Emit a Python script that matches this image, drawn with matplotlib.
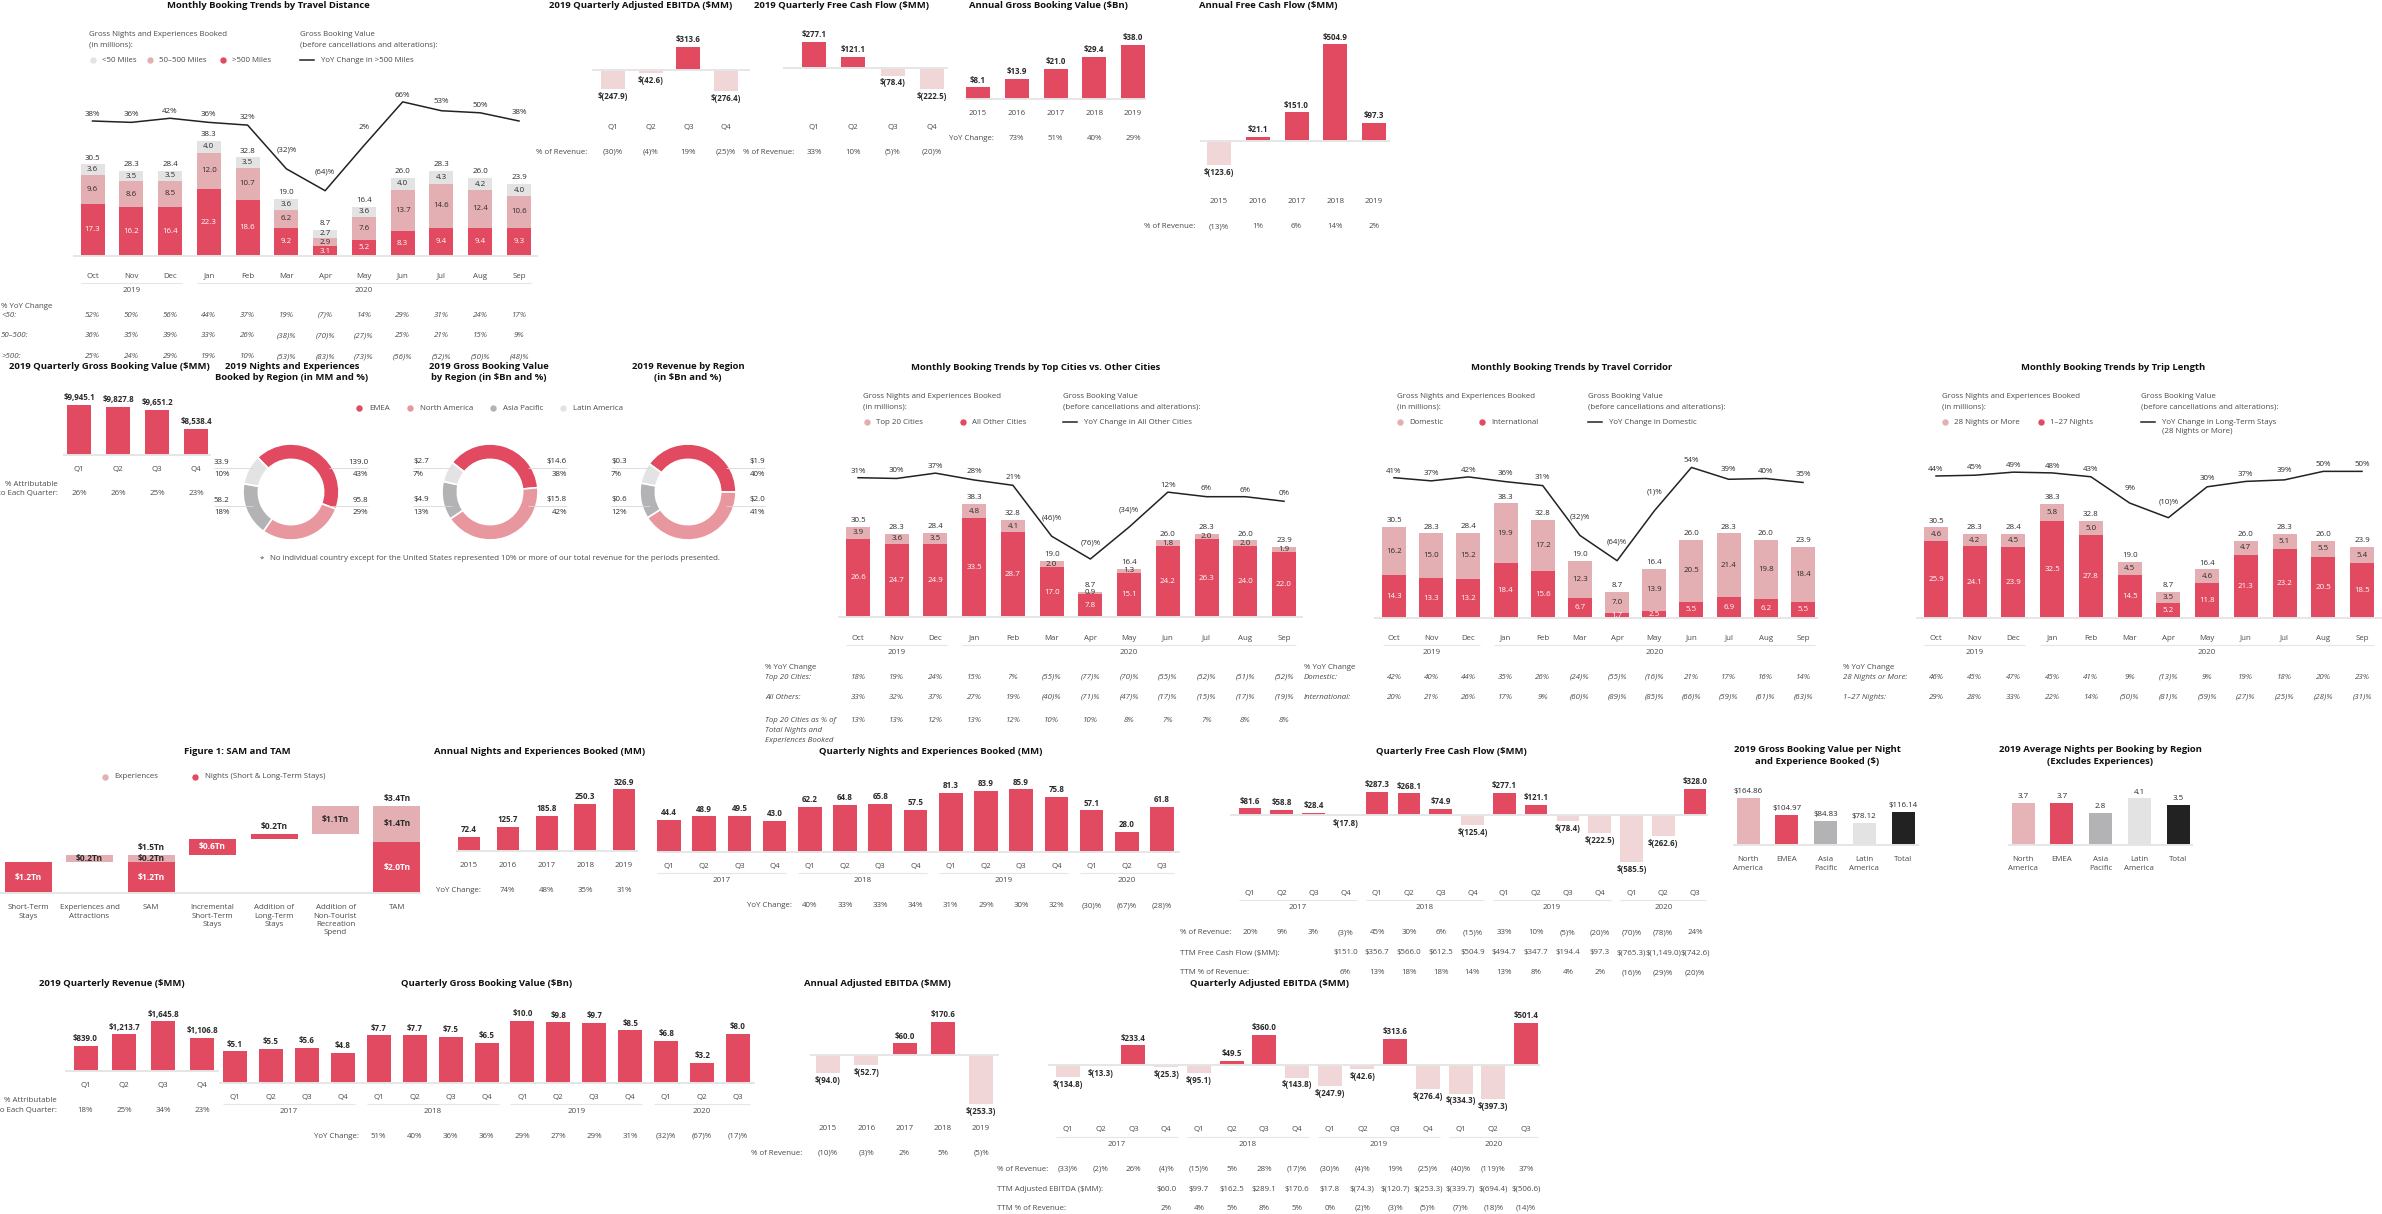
import matplotlib
matplotlib.use("Agg")
import matplotlib.pyplot as plt
import matplotlib.transforms as mtransforms
from matplotlib.lines import Line2D

plt.rcParams["font.family"] = ["Open Sans", "DejaVu Sans"]

RED = "#E24A61"
PINK = "#E4AFB3"
NEG = "#F1D6D8"
LIGHT = "#E3E3E3"
GREY = "#B3B3B5"
BLACK = "#222222"
NAPINK = "#E8979F"
TXT = "#2B2B2B"
SUB = "#4A4A4A"
RULE = "#E6E6E6"
FS = 5.7
TS = 6.8

# ---------------- data ----------------
MONTHS = ["Oct", "Nov", "Dec", "Jan", "Feb", "Mar", "Apr", "May", "Jun", "Jul", "Aug", "Sep"]
MONTH_YEARS = [("2019", 0, 2), ("2020", 3, 11)]
QTRS = ["Q1", "Q2", "Q3", "Q4"]
QTRS15 = QTRS * 3 + ["Q1", "Q2", "Q3"]
QTR_YEARS = [("2017", 0, 3), ("2018", 4, 7), ("2019", 8, 11), ("2020", 12, 14)]
YEARS5 = ["2015", "2016", "2017", "2018", "2019"]
REGIONS = ["EMEA", "North America", "Asia Pacific", "Latin America"]
REGION_CATS = ["North\nAmerica", "EMEA", "Asia\nPacific", "Latin\nAmerica", "Total"]

# travel distance
dist_lt50 = [3.6, 3.5, 3.5, 4.0, 3.5, 3.6, 2.7, 3.6, 4.0, 4.3, 4.2, 4.0]
dist_mid = [9.6, 8.6, 8.5, 12.0, 10.7, 6.2, 2.9, 7.6, 13.7, 14.6, 12.4, 10.6]
dist_far = [17.3, 16.2, 16.4, 22.3, 18.6, 9.2, 3.1, 5.2, 8.3, 9.4, 9.4, 9.3]
dist_total = [30.5, 28.3, 28.4, 38.3, 32.8, 19.0, 8.7, 16.4, 26.0, 28.3, 26.0, 23.9]
dist_gbv_yoy = [38, 36, 42, 36, 32, -32, -64, 2, 66, 53, 50, 38]
dist_yoy_lt50 = [52, 50, 56, 44, 37, 19, -7, 14, 29, 31, 24, 17]
dist_yoy_mid = [36, 35, 39, 33, 26, -38, -70, -27, 25, 21, 15, 9]
dist_yoy_far = [25, 24, 29, 19, 10, -53, -83, -73, -56, -52, -50, -48]

# top cities
city_top20 = [3.9, 3.6, 3.5, 4.8, 4.1, 2.0, 0.9, 1.3, 1.8, 2.0, 2.0, 1.9]
city_other = [26.6, 24.7, 24.9, 33.5, 28.7, 17.0, 7.8, 15.1, 24.2, 26.3, 24.0, 22.0]
city_gbv_yoy = [31, 30, 37, 28, 21, -46, -76, -34, 12, 6, 6, 0]
city_yoy_top20 = [18, 19, 24, 15, 7, -55, -77, -70, -55, -52, -51, -52]
city_yoy_other = [33, 32, 37, 27, 19, -40, -71, -47, -17, -15, -17, -19]
city_top20_share = [13, 13, 12, 13, 12, 10, 10, 8, 7, 7, 8, 8]

# travel corridor
corr_domestic = [16.2, 15.0, 15.2, 19.9, 17.2, 12.3, 7.0, 13.9, 20.5, 21.4, 19.8, 18.4]
corr_intl = [14.3, 13.3, 13.2, 18.4, 15.6, 6.7, 1.7, 2.5, 5.5, 6.9, 6.2, 5.5]
corr_gbv_yoy = [41, 37, 42, 36, 31, -32, -64, -1, 54, 39, 40, 35]
corr_yoy_domestic = [42, 40, 44, 35, 26, -24, -55, -16, 21, 17, 16, 14]
corr_yoy_intl = [20, 21, 26, 17, 9, -60, -89, -85, -66, -59, -61, -63]

# trip length
trip_long = [4.6, 4.2, 4.5, 5.8, 5.0, 4.5, 3.5, 4.6, 4.7, 5.1, 5.5, 5.4]
trip_short = [25.9, 24.1, 23.9, 32.5, 27.8, 14.5, 5.2, 11.8, 21.3, 23.2, 20.5, 18.5]
trip_gbv_yoy = [44, 45, 49, 48, 43, 9, -10, 30, 37, 39, 50, 50]
trip_yoy_long = [46, 45, 47, 45, 41, 9, -13, 9, 19, 18, 20, 23]
trip_yoy_short = [29, 28, 33, 22, 14, -50, -81, -59, -27, -25, -28, -31]

# 2019 quarterly
q19_ebitda = [-247.9, -42.6, 313.6, -276.4]
q19_ebitda_margin = [-30, -4, 19, -25]
q19_fcf = [277.1, 121.1, -78.4, -222.5]
q19_fcf_margin = [33, 10, -5, -20]
q19_gbv = [9945.1, 9827.8, 9651.2, 8538.4]
q19_gbv_share = [26, 26, 25, 23]
q19_revenue = [839.0, 1213.7, 1645.8, 1106.8]
q19_revenue_share = [18, 25, 34, 23]

# annual
annual_gbv = [8.1, 13.9, 21.0, 29.4, 38.0]
annual_gbv_yoy = [None, 73, 51, 40, 29]
annual_fcf = [-123.6, 21.1, 151.0, 504.9, 97.3]
annual_fcf_margin = [-13, 1, 6, 14, 2]
annual_nights = [72.4, 125.7, 185.8, 250.3, 326.9]
annual_nights_yoy = [None, 74, 48, 35, 31]
annual_ebitda = [-94.0, -52.7, 60.0, 170.6, -253.3]
annual_ebitda_margin = [-10, -3, 2, 5, -5]

# regions 2019 (EMEA, North America, Asia Pacific, Latin America)
nights_region = [139.0, 95.8, 58.2, 33.9]
nights_region_pct = [43, 29, 18, 10]
gbv_region = [14.6, 15.8, 4.9, 2.7]
gbv_region_pct = [38, 42, 13, 7]
rev_region = [1.9, 2.0, 0.6, 0.3]
rev_region_pct = [40, 41, 12, 7]

# SAM / TAM
sam_cats = ["Short-Term\nStays", "Experiences and\nAttractions", "SAM", "Incremental\nShort-Term\nStays",
            "Addition of\nLong-Term\nStays", "Addition of\nNon-Tourist\nRecreation\nSpend", "TAM"]
sam_steps = [1.2, 0.3, 0.6, 0.2, 1.1]
sam_step_labels = ["$1.2Tn", "$0.2Tn", "$0.6Tn", "$0.2Tn", "$1.1Tn"]
sam_split = [1.2, 0.3]
sam_split_labels = ["$1.2Tn", "$0.2Tn", "$1.5Tn"]
tam_split = [2.0, 1.4]
tam_split_labels = ["$2.0Tn", "$1.4Tn", "$3.4Tn"]

# quarterly 2017-2020
q_nights = [44.4, 48.9, 49.5, 43.0, 62.2, 64.8, 65.8, 57.5, 81.3, 83.9, 85.9, 75.8, 57.1, 28.0, 61.8]
q_nights_yoy = [None] * 4 + [40, 33, 33, 34, 31, 29, 30, 32, -30, -67, -28]
q_fcf = [81.6, 58.8, 28.4, -17.8, 287.3, 268.1, 74.9, -125.4, 277.1, 121.1, -78.4, -222.5, -585.5, -262.6, 328.0]
q_fcf_margin = [20, 9, 3, -3, 45, 30, 6, -15, 33, 10, -5, -20, -70, -78, 24]
q_fcf_ttm = [None] * 3 + [151.0, 356.7, 566.0, 612.5, 504.9, 494.7, 347.7, 194.4, 97.3, -765.3, -1149.0, -742.6]
q_fcf_ttm_margin = [None] * 3 + [6, 13, 18, 18, 14, 13, 8, 4, 2, -16, -29, -20]
q_gbv = [5.1, 5.5, 5.6, 4.8, 7.7, 7.7, 7.5, 6.5, 10.0, 9.8, 9.7, 8.5, 6.8, 3.2, 8.0]
q_gbv_yoy = [None] * 4 + [51, 40, 36, 36, 29, 27, 29, 31, -32, -67, -17]
q_ebitda = [-134.8, -13.3, 233.4, -25.3, -95.1, 49.5, 360.0, -143.8, -247.9, -42.6, 313.6, -276.4, -334.3, -397.3, 501.4]
q_ebitda_margin = [-33, -2, 26, -4, -15, 5, 28, -17, -30, -4, 19, -25, -40, -119, 37]
q_ebitda_ttm = [None] * 3 + [60.0, 99.7, 162.5, 289.1, 170.6, 17.8, -74.3, -120.7, -253.3, -339.7, -694.4, -506.6]
q_ebitda_ttm_margin = [None] * 3 + [2, 4, 5, 8, 5, 0, -2, -3, -5, -7, -18, -14]

# per region bars
gbv_per_night = [164.86, 104.97, 84.83, 78.12, 116.14]
avg_nights = [3.7, 3.7, 2.8, 4.1, 3.5]
REGION_COLORS = ["#E6B4B7", RED, GREY, LIGHT, BLACK]


def pct(v):
    if v is None:
        return None
    return f"{v}%" if v >= 0 else f"({-v})%"


def usd(v, nd=1):
    if v is None:
        return None
    s = f"{abs(v):,.{nd}f}"
    return f"${s}" if v >= 0 else f"$({s})"


# ---------------- helpers (pixel layout, y from top) ----------------
W, H = 2382, 1214
fig = plt.figure(figsize=(W / 100, H / 100), dpi=100)
PX = mtransforms.Affine2D().scale(1, -1).translate(0, H)


def text(x, y, s, size=FS, ha="center", va="center", color=TXT, weight="normal", style="normal"):
    fig.text(x, y, s, transform=PX, fontsize=size, ha=ha, va=va, color=color,
             fontweight=weight, fontstyle=style)


def title(x, y, s):
    text(x, y, s, size=TS, weight="bold", color="#111111")


def rule(x0, x1, y, lw=1.4, color=RULE):
    fig.add_artist(Line2D([x0, x1], [y, y], transform=PX, color=color, lw=lw, solid_capstyle="butt"))


def dot(x, y, color):
    fig.add_artist(Line2D([x], [y], transform=PX, marker="o", ms=4.6, color=color, mec="none", ls="none"))


def bar_ax(c0, c1, n, base, scale, up, down=0, origin=0.0):
    d = (c1 - c0) / (n - 1)
    left, right = c0 - d / 2, c1 + d / 2
    ax = fig.add_axes([left / W, 1 - (base + down) / H, (right - left) / W, (up + down) / H])
    ax.set_xlim(-0.5, n - 0.5)
    ax.set_ylim(origin - down / scale, origin + up / scale)
    ax.axis("off")
    return ax, d


def colrow(ax, y, items, color=SUB, style="normal", size=FS, dy=8.6):
    tr = mtransforms.blended_transform_factory(ax.transData, PX)
    for i, s in enumerate(items):
        if s is None:
            continue
        for k, part in enumerate(s.split("\n")):
            ax.text(i, y + k * dy, part, transform=tr, ha="center", va="center",
                    fontsize=size, color=color, fontstyle=style)


def years(c0, d, bw, groups, y_rule, y_text):
    for lab, i0, i1 in groups:
        x0, x1 = c0 + i0 * d - bw / 2, c0 + i1 * d + bw / 2
        rule(x0, x1, y_rule, lw=0.8)
        text((x0 + x1) / 2, y_text, lab, color=SUB)


def columns(vals, labels, c0, c1, base, scale, up, down=0, bw=24, origin=0.0,
            colors=None, rule_x=None, weight="bold"):
    n = len(vals)
    ax, d = bar_ax(c0, c1, n, base, scale, up, down, origin)
    if colors is None:
        colors = [RED if v >= 0 else NEG for v in vals]
    ax.bar(range(n), vals, width=bw / d, color=colors)
    for i, (v, lab) in enumerate(zip(vals, labels)):
        if v >= 0:
            ax.annotate(lab, (i, v), xytext=(0, 2), textcoords="offset points", ha="center",
                        va="bottom", fontsize=FS, fontweight=weight, color=TXT, annotation_clip=False)
        else:
            ax.annotate(lab, (i, v), xytext=(0, -2), textcoords="offset points", ha="center",
                        va="top", fontsize=FS, fontweight=weight, color=TXT, annotation_clip=False)
    if rule_x:
        rule(rule_x[0], rule_x[1], base)
    return ax, d


def monthly_chart(c0, c1, base, scale, stack, colors, tcolors, totals, line, anchors, rule_x):
    n = len(totals)
    ax, d = bar_ax(c0, c1, n, base, scale, up=150)
    bw = 24 / d
    bottom = [0.0] * n
    for seg, col, tc in zip(stack, colors, tcolors):
        ax.bar(range(n), seg, bw, bottom=bottom, color=col)
        for i, v in enumerate(seg):
            ax.text(i, bottom[i] + v / 2, f"{v:.1f}", ha="center", va="center", fontsize=FS, color=tc)
        bottom = [b + v for b, v in zip(bottom, seg)]
    for i, tot in enumerate(totals):
        ax.annotate(f"{tot:.1f}", (i, bottom[i]), xytext=(0, 2), textcoords="offset points",
                    ha="center", va="bottom", fontsize=FS, color=TXT)
    rule(rule_x[0], rule_x[1], base)

    (v1, p1), (v2, p2) = anchors
    s = (p2 - p1) / (v1 - v2)
    top = base - 200
    left = c0 - d / 2
    lax = fig.add_axes([left / W, 1 - base / H, (d * n) / W, 200 / H])
    lax.set_xlim(-0.5, n - 0.5)
    lax.set_ylim(v1 - (base - p1) / s, v1 + (p1 - top) / s)
    lax.axis("off")
    lax.plot(range(n), line, color=BLACK, lw=1.1)
    for i, v in enumerate(line):
        nb = [line[j] for j in (i - 1, i + 1) if 0 <= j < n]
        rise = max(0, max(nb) - v) * s
        off = (3 + min(rise * 0.3, 12)) * 0.72
        lax.annotate(pct(v), (i, v), xytext=(0, off), textcoords="offset points", ha="center",
                     va="bottom", fontsize=FS, color=TXT, annotation_clip=False)
    return ax, d


def monthly_legend(x, y, dots, xr, line_lab, line_lab2=None):
    text(x, y, "Gross Nights and Experiences Booked", ha="left", color=SUB)
    text(x, y + 9.5, "(in millions):", ha="left", color=SUB)
    for mx, col, lab in dots:
        dot(mx, y + 25, col)
        text(mx + 9, y + 25, lab, ha="left", color=SUB)
    text(xr, y, "Gross Booking Value", ha="left", color=SUB)
    text(xr, y + 9.5, "(before cancellations and alterations):", ha="left", color=SUB)
    fig.add_artist(Line2D([xr, xr + 14], [y + 25, y + 25], transform=PX, color=BLACK, lw=1.1))
    text(xr + 21, y + 25, line_lab, ha="left", color=SUB)
    if line_lab2:
        text(xr + 21, y + 34.5, line_lab2, ha="left", color=SUB)


def donut(cx, cy, shares, start, vals, fmt):
    r = 48
    ax = fig.add_axes([(cx - r) / W, 1 - (cy + r) / H, 2 * r / W, 2 * r / H])
    ax.pie(shares, colors=[RED, NAPINK, GREY, LIGHT], startangle=start, counterclock=False,
           radius=1, wedgeprops=dict(width=0.32, edgecolor="white", linewidth=1.2))
    ax.set_xlim(-1, 1)
    ax.set_ylim(-1, 1)
    # left: Latin America (top), Asia Pacific (bottom); right: EMEA (top), North America (bottom)
    for idx, side, dy in [(3, -1, -30), (2, -1, 8), (0, 1, -30), (1, 1, 8)]:
        x = cx + side * 77
        ha = "left" if side < 0 else "right"
        text(x, cy + dy, fmt(vals[idx]), ha=ha, color=TXT)
        text(x, cy + dy + 12, pct(shares[idx]), ha=ha, color=TXT)
        x_in = cx + side * 38
        rule(min(x, x_in), max(x, x_in), cy + dy + 6, lw=0.6, color="#D8D8D8")


# ================= Row 1 =================
ax, d = monthly_chart(92.5, 519, 255.7, 2.995, [dist_far, dist_mid, dist_lt50], [RED, PINK, LIGHT],
                      ["white", TXT, TXT], dist_total, dist_gbv_yoy, ((38, 121), (-64, 190.7)), (72.5, 538))
title(268, 6, "Monthly Booking Trends by Travel Distance")
monthly_legend(89, 35, [(93, LIGHT, "<50 Miles"), (150, PINK, "50–500 Miles"), (223, RED, ">500 Miles")],
               300, "YoY Change in >500 Miles")
colrow(ax, 276, MONTHS)
years(92.5, d, 24, MONTH_YEARS, 283.3, 290.7)
text(1, 306, "% YoY Change", ha="left", color=SUB)
for y, lab, vals in [(315.3, "<50:", dist_yoy_lt50), (335.7, "50–500:", dist_yoy_mid),
                     (356.7, ">500:", dist_yoy_far)]:
    text(1, y, lab, ha="left", color=SUB, style="italic")
    colrow(ax, y, [pct(v) for v in vals], style="italic")

ax, d = columns(q19_ebitda, [usd(v) for v in q19_ebitda], 613, 726, 70.3, 0.075, up=45, down=40,
                rule_x=(592, 750))
title(641, 6, "2019 Quarterly Adjusted EBITDA ($MM)")
colrow(ax, 127.3, QTRS)
text(587, 152, "% of Revenue:", ha="right", color=SUB)
colrow(ax, 152, [pct(v) for v in q19_ebitda_margin])

ax, d = columns(q19_fcf, [usd(v) for v in q19_fcf], 814, 932, 68.3, 0.094, up=45, down=40,
                rule_x=(783, 948))
title(841, 6, "2019 Quarterly Free Cash Flow ($MM)")
colrow(ax, 127.3, QTRS)
text(794, 152, "% of Revenue:", ha="right", color=SUB)
colrow(ax, 152, [pct(v) for v in q19_fcf_margin])

ax, d = columns(annual_gbv, [usd(v) for v in annual_gbv], 978, 1133, 99, 1.43, up=80, rule_x=(966, 1146))
title(1048, 6, "Annual Gross Booking Value ($Bn)")
colrow(ax, 113.3, YEARS5)
text(994, 138.3, "YoY Change:", ha="right", color=SUB)
colrow(ax, 138.3, [pct(v) for v in annual_gbv_yoy])

ax, d = columns(annual_fcf, [usd(v) for v in annual_fcf], 1219, 1374, 141.3, 0.192, up=115, down=40,
                rule_x=(1200, 1390))
title(1268, 6, "Annual Free Cash Flow ($MM)")
colrow(ax, 201.3, YEARS5)
text(1195, 226.7, "% of Revenue:", ha="right", color=SUB)
colrow(ax, 226.7, [pct(v) for v in annual_fcf_margin])

# ================= Row 2 =================
ax, d = columns(q19_gbv, [usd(v) for v in q19_gbv], 79, 196, 454.7, 0.01684, up=70, origin=7000,
                rule_x=(63, 211))
title(109, 366.7, "2019 Quarterly Gross Booking Value ($MM)")
colrow(ax, 469.3, QTRS)
text(58, 484.3, "% Attributable", ha="right", color=SUB)
text(58, 493.3, "to Each Quarter:", ha="right", color=SUB)
colrow(ax, 493.3, [pct(v) for v in q19_gbv_share])

title(292, 366.7, "2019 Nights and Experiences")
title(292, 378, "Booked by Region (in MM and %)")
title(489, 366.7, "2019 Gross Booking Value")
title(489, 378, "by Region (in $Bn and %)")
title(688, 366.7, "2019 Revenue by Region")
title(688, 378, "(in $Bn and %)")
for mx, col, lab in zip([359, 410, 493, 563], [RED, NAPINK, GREY, LIGHT], REGIONS):
    dot(mx, 408.3, col)
    text(mx + 10, 408.3, lab, ha="left", color=SUB)
donut(291, 492, nights_region_pct, 134, nights_region, lambda v: f"{v:.1f}")
donut(490, 492, gbv_region_pct, 142, gbv_region, usd)
donut(688, 492, rev_region_pct, 144, rev_region, usd)
text(260, 559, "*", ha="left", color=SUB)
text(270, 559, "No individual country except for the United States represented 10% or more of our total "
               "revenue for the periods presented.", ha="left", color=SUB)

ax, d = monthly_chart(858, 1284, 617.3, 2.96, [city_other, city_top20], [RED, PINK], ["white", TXT],
                      dist_total, city_gbv_yoy, ((31, 477.7), (-76, 559)), (838, 1303))
title(1036, 367.3, "Monthly Booking Trends by Top Cities vs. Other Cities")
monthly_legend(863, 397, [(867, PINK, "Top 20 Cities"), (963, RED, "All Other Cities")],
               1063, "YoY Change in All Other Cities")
colrow(ax, 638, MONTHS)
years(858, d, 24, MONTH_YEARS, 645.3, 652.3)
text(765, 667.7, "% YoY Change", ha="left", color=SUB)
for y, lab, vals in [(677.3, "Top 20 Cities:", city_yoy_top20), (697.3, "All Others:", city_yoy_other),
                     (720.7, "Top 20 Cities as % of", city_top20_share)]:
    text(765, y, lab, ha="left", color=SUB, style="italic")
    colrow(ax, y, [pct(v) for v in vals], style="italic")
text(765, 730.3, "Total Nights and", ha="left", color=SUB, style="italic")
text(765, 740, "Experiences Booked", ha="left", color=SUB, style="italic")

ax, d = monthly_chart(1394, 1803, 618, 2.99, [corr_intl, corr_domestic], [RED, PINK], ["white", TXT],
                      dist_total, corr_gbv_yoy, ((41, 477.7), (-64, 560.7)), (1374, 1818))
title(1572, 367.3, "Monthly Booking Trends by Travel Corridor")
monthly_legend(1397, 397, [(1400, PINK, "Domestic"), (1482, RED, "International")],
               1588, "YoY Change in Domestic")
colrow(ax, 638, MONTHS)
years(1394, d, 23, MONTH_YEARS, 645.3, 652.3)
text(1304, 667.7, "% YoY Change", ha="left", color=SUB)
for y, lab, vals in [(677.3, "Domestic:", corr_yoy_domestic), (697.3, "International:", corr_yoy_intl)]:
    text(1304, y, lab, ha="left", color=SUB, style="italic")
    colrow(ax, y, [pct(v) for v in vals], style="italic")

ax, d = monthly_chart(1936, 2362, 618, 2.97, [trip_short, trip_long], [RED, PINK], ["white", TXT],
                      dist_total, trip_gbv_yoy, ((44, 476), (-10, 517.7)), (1916, 2382))
title(2113, 367.3, "Monthly Booking Trends by Trip Length")
monthly_legend(1942, 397, [(1945, PINK, "28 Nights or More"), (2041, RED, "1–27 Nights")],
               2141, "YoY Change in Long-Term Stays", "(28 Nights or More)")
colrow(ax, 638, MONTHS)
years(1936, d, 24, MONTH_YEARS, 645.3, 652.3)
text(1843, 667.7, "% YoY Change", ha="left", color=SUB)
for y, lab, vals in [(677.3, "28 Nights or More:", trip_yoy_long), (697.3, "1–27 Nights:", trip_yoy_short)]:
    text(1843, y, lab, ha="left", color=SUB, style="italic")
    colrow(ax, y, [pct(v) for v in vals], style="italic")

# ================= Row 3 =================
title(237, 751, "Figure 1: SAM and TAM")
dot(105, 777, PINK)
text(114, 777, "Experiences", ha="left", color=SUB)
dot(195, 777, RED)
text(205, 777, "Nights (Short & Long-Term Stays)", ha="left", color=SUB)
ax, d = bar_ax(28, 397, 7, 893.3, 25.8, up=100)
bw = 47 / d
lab_kw = dict(ha="center", va="center", fontsize=FS + 0.4, fontweight="bold")
ax.bar(0, sam_steps[0], bw, color=RED)
ax.text(0, sam_steps[0] / 2, sam_step_labels[0], color="white", **lab_kw)
ax.bar(1, sam_steps[1], bw, bottom=sam_steps[0], color=PINK)
ax.text(1, sam_steps[0] + sam_steps[1] / 2, sam_step_labels[1], color=TXT, **lab_kw)
ax.bar(2, sam_split[0], bw, color=RED)
ax.bar(2, sam_split[1], bw, bottom=sam_split[0], color=PINK)
ax.text(2, sam_split[0] / 2, sam_split_labels[0], color="white", **lab_kw)
ax.text(2, sam_split[0] + sam_split[1] / 2, sam_split_labels[1], color=TXT, **lab_kw)
ax.annotate(sam_split_labels[2], (2, sum(sam_split)), xytext=(0, 2), textcoords="offset points",
            va="bottom", ha="center", fontsize=FS + 0.4, fontweight="bold", color=TXT)
run = sum(sam_split)
for i, col, inside in [(2, RED, True), (3, RED, False), (4, PINK, True)]:
    ax.bar(i + 1, sam_steps[i], bw, bottom=run, color=col)
    if inside:
        ax.text(i + 1, run + sam_steps[i] / 2, sam_step_labels[i],
                color="white" if col == RED else TXT, **lab_kw)
    else:
        ax.annotate(sam_step_labels[i], (i + 1, run + sam_steps[i]), xytext=(0, 2),
                    textcoords="offset points", va="bottom", ha="center", fontsize=FS + 0.4,
                    fontweight="bold", color=TXT)
    run += sam_steps[i]
ax.bar(6, tam_split[0], bw, color=RED)
ax.bar(6, tam_split[1], bw, bottom=tam_split[0], color=PINK)
ax.text(6, tam_split[0] / 2, tam_split_labels[0], color="white", **lab_kw)
ax.text(6, tam_split[0] + tam_split[1] / 2, tam_split_labels[1], color=TXT, **lab_kw)
ax.annotate(tam_split_labels[2], (6, sum(tam_split)), xytext=(0, 2), textcoords="offset points",
            va="bottom", ha="center", fontsize=FS + 0.4, fontweight="bold", color=TXT)
rule(0, 421, 893.3)
colrow(ax, 907.7, sam_cats, dy=8.3)

ax, d = columns(annual_nights, [f"{v:.1f}" for v in annual_nights], 469, 624, 850.7, 0.1876, up=75,
                bw=22, rule_x=(456, 638))
title(540, 751, "Annual Nights and Experiences Booked (MM)")
colrow(ax, 865.3, YEARS5)
text(481, 890, "YoY Change:", ha="right", color=SUB)
colrow(ax, 890, [pct(v) for v in annual_nights_yoy])

ax, d = columns(q_nights, [f"{v:.1f}" for v in q_nights], 669, 1162, 852, 0.73, up=75, bw=23.7,
                rule_x=(657, 1180))
title(931, 751, "Quarterly Nights and Experiences Booked (MM)")
colrow(ax, 866.7, QTRS15)
years(669, d, 23.7, QTR_YEARS, 872.7, 880.7)
text(792, 905.7, "YoY Change:", ha="right", color=SUB)
colrow(ax, 905.7, [pct(v) for v in q_nights_yoy])

ax, d = columns(q_fcf, [usd(v) for v in q_fcf], 1250, 1695, 815, 0.0805, up=45, down=60, bw=22.6,
                rule_x=(1230, 1708))
title(1451, 751, "Quarterly Free Cash Flow ($MM)")
colrow(ax, 893.3, QTRS15)
years(1250, d, 22.6, QTR_YEARS, 900.3, 907.3)
for y, lab, vals in [(932.7, "% of Revenue:", [pct(v) for v in q_fcf_margin]),
                     (952.7, "TTM Free Cash Flow ($MM):", [usd(v) for v in q_fcf_ttm]),
                     (972.7, "TTM % of Revenue:", [pct(v) for v in q_fcf_ttm_margin])]:
    text(1180, y, lab, ha="left", color=SUB)
    colrow(ax, y, vals)

ax, d = columns(gbv_per_night, [usd(v, 2) for v in gbv_per_night], 1748, 1903, 845.3, 0.2875, up=60,
                bw=23, colors=REGION_COLORS, rule_x=(1733, 1919), weight="normal")
title(1817, 749.5, "2019 Gross Booking Value per Night")
title(1817, 761, "and Experience Booked ($)")
colrow(ax, 859.3, REGION_CATS, dy=9)

ax, d = columns(avg_nights, [f"{v:.1f}" for v in avg_nights], 2023, 2178, 845.3, 11.45, up=60,
                bw=23, colors=REGION_COLORS, rule_x=(2008, 2193), weight="normal")
title(2100, 749.5, "2019 Average Nights per Booking by Region")
title(2100, 761, "(Excludes Experiences)")
colrow(ax, 859.3, REGION_CATS, dy=9)

# ================= Row 4 =================
ax, d = columns(q19_revenue, [usd(v) for v in q19_revenue], 85.5, 202, 1071, 0.0302, up=65,
                rule_x=(65, 219))
title(112, 983.3, "2019 Quarterly Revenue ($MM)")
colrow(ax, 1085.7, QTRS)
text(57, 1100.7, "% Attributable", ha="right", color=SUB)
text(57, 1110.3, "to Each Quarter:", ha="right", color=SUB)
colrow(ax, 1110.3, [pct(v) for v in q19_revenue_share])

ax, d = columns(q_gbv, [usd(v) for v in q_gbv], 235, 738, 1082.7, 6.15, up=75, rule_x=(219, 755))
title(487, 983.3, "Quarterly Gross Booking Value ($Bn)")
colrow(ax, 1097.3, QTRS15)
years(235, d, 24, QTR_YEARS, 1104, 1111.7)
text(359, 1136, "YoY Change:", ha="right", color=SUB)
colrow(ax, 1136, [pct(v) for v in q_gbv_yoy])

ax, d = columns(annual_ebitda, [usd(v) for v in annual_ebitda], 828, 981, 1055, 0.195, up=45, down=60,
                rule_x=(810, 999))
title(877, 983.3, "Annual Adjusted EBITDA ($MM)")
colrow(ax, 1128.3, YEARS5)
text(802, 1153.3, "% of Revenue:", ha="right", color=SUB)
colrow(ax, 1153.3, [pct(v) for v in annual_ebitda_margin])

ax, d = columns(q_ebitda, [usd(v) for v in q_ebitda], 1068, 1526, 1065.3, 0.085, up=50, down=45,
                rule_x=(1048, 1540))
title(1270, 984, "Quarterly Adjusted EBITDA ($MM)")
colrow(ax, 1129.3, QTRS15)
years(1068, d, 24, QTR_YEARS, 1136.7, 1144)
for y, lab, vals in [(1169.3, "% of Revenue:", [pct(v) for v in q_ebitda_margin]),
                     (1189.3, "TTM Adjusted EBITDA ($MM):", [usd(v) for v in q_ebitda_ttm]),
                     (1208.3, "TTM % of Revenue:", [pct(v) for v in q_ebitda_ttm_margin])]:
    text(997, y, lab, ha="left", color=SUB)
    colrow(ax, y, vals)

fig.savefig("out.png", dpi=100, facecolor="white")
